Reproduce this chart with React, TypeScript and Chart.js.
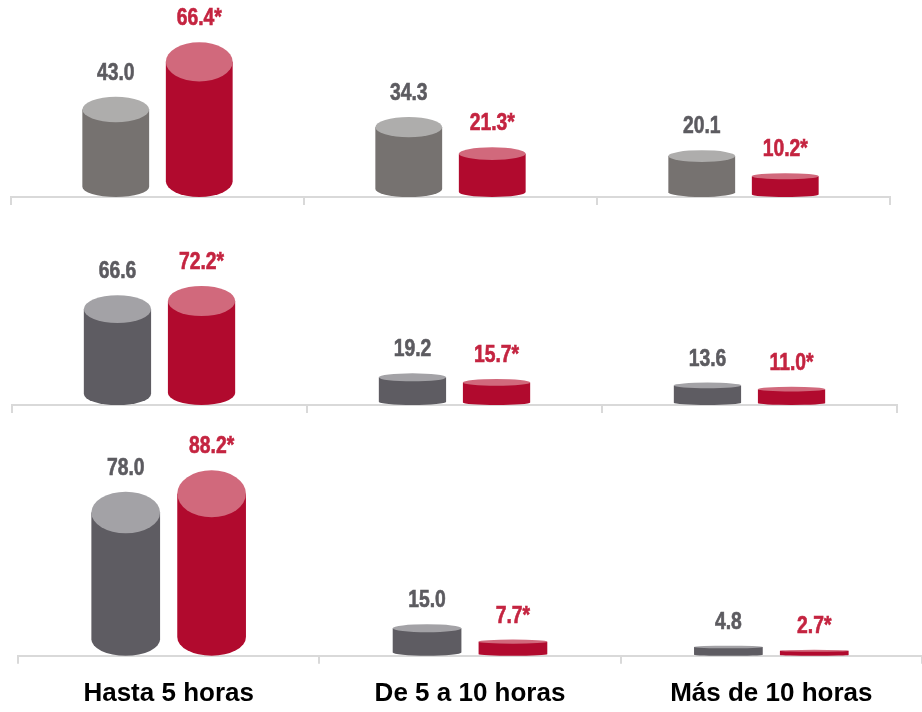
import React, { useEffect, useRef } from 'react';
import { Chart, registerables } from 'chart.js';

Chart.register(...registerables);

const categories = ['Hasta 5 horas', 'De 5 a 10 horas', 'Más de 10 horas'];

const panel1Gray = [43.0, 34.3, 20.1];
const panel1Red = [66.4, 21.3, 10.2];
const panel2Gray = [66.6, 19.2, 13.6];
const panel2Red = [72.2, 15.7, 11.0];
const panel3Gray = [78.0, 15.0, 4.8];
const panel3Red = [88.2, 7.7, 2.7];

const RED_BODY = '#b10a2e';
const RED_TOP = '#d1697c';
const RED_LABEL = '#c42440';
const GRAY_LABEL = '#5c5b60';

const cylinderPlugin = {
  id: 'cylinders',
  afterDatasetsDraw(chart: any) {
    const ctx = chart.ctx;
    chart.data.datasets.forEach((ds: any, di: number) => {
      const meta = chart.getDatasetMeta(di);
      meta.data.forEach((bar: any, i: number) => {
        const { x, y, base, width } = bar.getProps(['x', 'y', 'base', 'width'], true);
        const rx = width / 2;
        const h = base - y;
        const ryT = Math.max(1, 0.145 * h);
        const ryB = 0.8 * ryT;
        ctx.save();
        ctx.fillStyle = ds.bodyColor;
        ctx.beginPath();
        ctx.moveTo(x - rx, y);
        ctx.lineTo(x - rx, base - ryB);
        ctx.ellipse(x, base - ryB, rx, ryB, 0, Math.PI, 0, true);
        ctx.lineTo(x + rx, y);
        ctx.closePath();
        ctx.fill();
        ctx.fillStyle = ds.topColor;
        ctx.beginPath();
        ctx.ellipse(x, y, rx, ryT, 0, 0, Math.PI * 2);
        ctx.fill();
        // value label
        const v = ds.data[i] as number;
        const txt = v.toFixed(1) + (ds.suffix || '');
        ctx.translate(x, y - ryT - 17);
        ctx.scale(0.84, 1);
        ctx.font = 'bold 23px "Liberation Sans", Arial, sans-serif';
        ctx.fillStyle = ds.labelColor;
        ctx.strokeStyle = ds.labelColor;
        ctx.lineWidth = 0.6;
        ctx.textAlign = 'center';
        ctx.textBaseline = 'alphabetic';
        ctx.fillText(txt, 0, 0);
        ctx.strokeText(txt, 0, 0);
        ctx.restore();
      });
    });
  },
};

type PanelProps = {
  left: number;
  top: number;
  width: number;
  height: number;
  gray: number[];
  red: number[];
  max: number;
  grayBody: string;
  grayTop: string;
  showLabels: boolean;
  padBottom: number;
};

function Panel(p: PanelProps) {
  const ref = useRef<HTMLCanvasElement>(null);
  useEffect(() => {
    if (!ref.current) return;
    const chart = new Chart(ref.current, {
      type: 'bar',
      data: {
        labels: categories,
        datasets: [
          {
            label: 'Serie 1',
            data: p.gray,
            backgroundColor: 'rgba(0,0,0,0)',
            borderWidth: 0,
            barPercentage: 0.8,
            categoryPercentage: 0.57,
            bodyColor: p.grayBody,
            topColor: p.grayTop,
            labelColor: GRAY_LABEL,
            suffix: '',
          } as any,
          {
            label: 'Serie 2',
            data: p.red,
            backgroundColor: 'rgba(0,0,0,0)',
            borderWidth: 0,
            barPercentage: 0.8,
            categoryPercentage: 0.57,
            bodyColor: RED_BODY,
            topColor: RED_TOP,
            labelColor: RED_LABEL,
            suffix: '*',
          } as any,
        ],
      },
      options: {
        responsive: false,
        animation: false,
        layout: { padding: { left: 4, right: 4, top: 0, bottom: p.padBottom } },
        plugins: { legend: { display: false }, tooltip: { enabled: false } },
        scales: {
          x: {
            offset: true,
            grid: {
              offset: true,
              drawOnChartArea: false,
              drawTicks: true,
              tickLength: 8,
              color: '#d9d9d9',
              lineWidth: 2,
            },
            border: { display: true, color: '#d9d9d9', width: 2 },
            ticks: {
              display: p.showLabels,
              color: '#000000',
              padding: 14,
              maxRotation: 0,
              autoSkip: false,
              font: { family: '"Liberation Sans", Arial, sans-serif', size: 26, weight: 'bold' },
            },
          },
          y: { display: false, min: 0, max: p.max },
        },
      },
      plugins: [cylinderPlugin],
    });
    return () => chart.destroy();
  }, []);
  return (
    <canvas
      ref={ref}
      width={p.width}
      height={p.height}
      style={{ position: 'absolute', left: p.left, top: p.top, width: p.width, height: p.height }}
    />
  );
}

export default function App() {
  return (
    <div
      style={{
        position: 'fixed',
        left: 0,
        top: 0,
        width: 922,
        height: 712,
        overflow: 'hidden',
        background: '#ffffff',
      }}
    >
      <Panel left={7} top={0} width={887} height={205} gray={panel1Gray} red={panel1Red} max={96.8}
        grayBody="#767270" grayTop="#aeadac" showLabels={false} padBottom={0} />
      <Panel left={8} top={215} width={893} height={198} gray={panel2Gray} red={panel2Red} max={131.9}
        grayBody="#5e5c62" grayTop="#a3a2a6" showLabels={false} padBottom={0} />
      <Panel left={14} top={435} width={912} height={288} gray={panel3Gray} red={panel3Red} max={120.2}
        grayBody="#5e5c62" grayTop="#a3a2a6" showLabels={true} padBottom={0} />
    </div>
  );
}
